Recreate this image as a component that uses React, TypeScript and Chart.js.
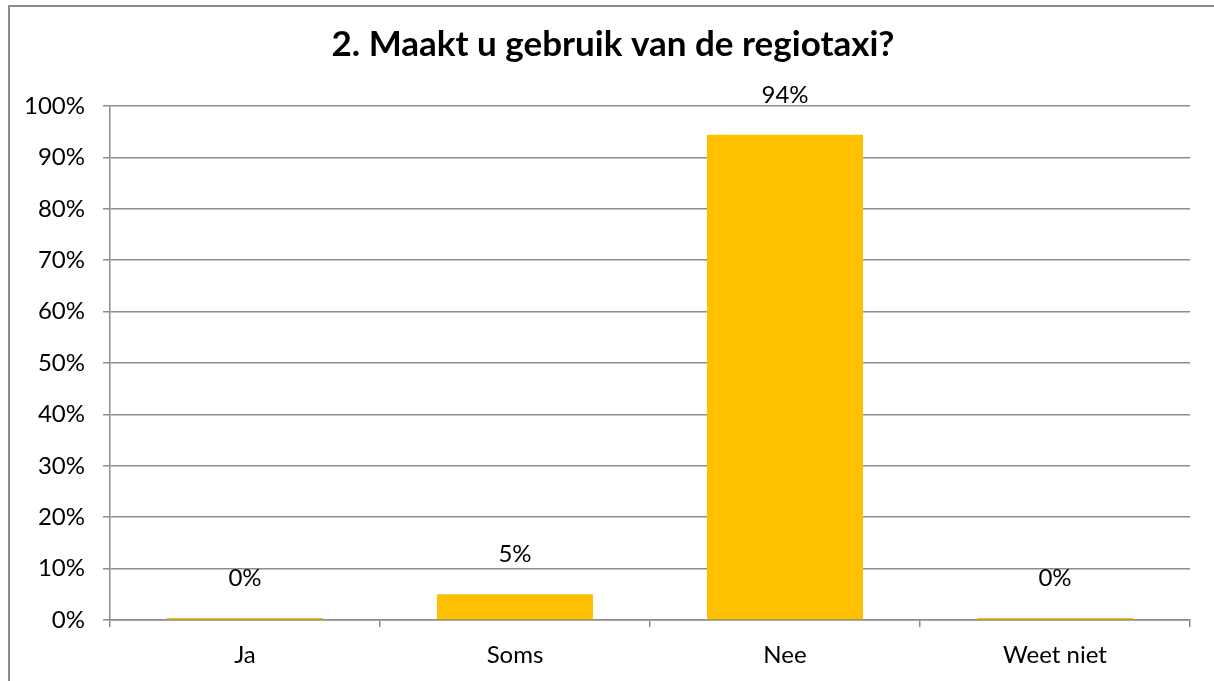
import React, { useEffect, useRef } from "react";
import { Chart, registerables } from "chart.js";

Chart.register(...registerables);

const categories = ["Ja", "Soms", "Nee", "Weet niet"];
const values = [0.4, 5.0, 94.4, 0.4];
const yTicks = [0, 10, 20, 30, 40, 50, 60, 70, 80, 90, 100];
const titleText = "2. Maakt u gebruik van de regiotaxi?";

const FONT = "Lato, 'Open Sans', sans-serif";

const valueLabels = {
  id: "valueLabels",
  afterDatasetsDraw(chart: any) {
    const ctx = chart.ctx;
    const meta = chart.getDatasetMeta(0);
    ctx.save();
    ctx.font = `24px ${FONT}`;
    ctx.fillStyle = "#000";
    ctx.textAlign = "center";
    ctx.textBaseline = "alphabetic";
    meta.data.forEach((bar: any, i: number) => {
      const v = chart.data.datasets[0].data[i] as number;
      ctx.fillText(Math.round(v) + "%", bar.x, bar.y - 32);
    });
    ctx.restore();
  },
};

const chartTitle = {
  id: "chartTitle",
  afterDraw(chart: any) {
    const ctx = chart.ctx;
    ctx.save();
    ctx.font = `bold 35px ${FONT}`;
    ctx.fillStyle = "#000";
    ctx.textAlign = "center";
    ctx.textBaseline = "alphabetic";
    ctx.fillText(titleText, 613, 56);
    ctx.restore();
  },
};

export default function App() {
  const ref = useRef<HTMLCanvasElement>(null);
  useEffect(() => {
    if (!ref.current) return;
    const chart = new Chart(ref.current, {
      type: "bar",
      data: {
        labels: categories,
        datasets: [
          {
            data: values,
            backgroundColor: "#FFC000",
            borderWidth: 0,
            barPercentage: 1,
            categoryPercentage: 0.578,
          },
        ],
      },
      options: {
        animation: false,
        responsive: true,
        maintainAspectRatio: false,
        layout: { padding: { left: 0, right: 24, top: 106, bottom: 0 } },
        plugins: {
          legend: { display: false },
          tooltip: { enabled: false },
          title: { display: false },
        },
        scales: {
          x: {
            afterFit(scale: any) {
              scale.height = 61;
            },
            grid: {
              display: true,
              drawOnChartArea: false,
              drawTicks: true,
              offset: true,
              tickLength: 7,
              color: "#8c8c8c",
              lineWidth: 1.5,
            },
            border: { display: true, color: "#8c8c8c", width: 1.5 },
            ticks: {
              color: "#000",
              font: { family: FONT, size: 24 },
              padding: 14,
            },
          },
          y: {
            min: 0,
            max: 100,
            afterFit(scale: any) {
              scale.width = 110;
            },
            afterBuildTicks(scale: any) {
              scale.ticks = yTicks.map((v) => ({ value: v }));
            },
            grid: {
              color: "#8c8c8c",
              lineWidth: 1.5,
              tickLength: 7,
              drawTicks: true,
            },
            border: { display: true, color: "#8c8c8c", width: 1.5 },
            ticks: {
              color: "#000",
              font: { family: FONT, size: 24 },
              padding: 18,
              callback: (v: any) => v + "%",
            },
          },
        },
      },
      plugins: [valueLabels, chartTitle],
    });
    return () => chart.destroy();
  }, []);

  return (
    <div
      style={{
        position: "absolute",
        left: 0,
        top: 0,
        width: 1214,
        height: 681,
        overflow: "hidden",
        background: "#fff",
      }}
    >
      <div
        style={{
          position: "absolute",
          left: 8,
          top: 5,
          width: 1300,
          height: 800,
          border: "2px solid #8c8c8c",
        }}
      />
      <div style={{ position: "absolute", left: 0, top: 0, width: 1214, height: 681 }}>
        <canvas ref={ref} />
      </div>
    </div>
  );
}
